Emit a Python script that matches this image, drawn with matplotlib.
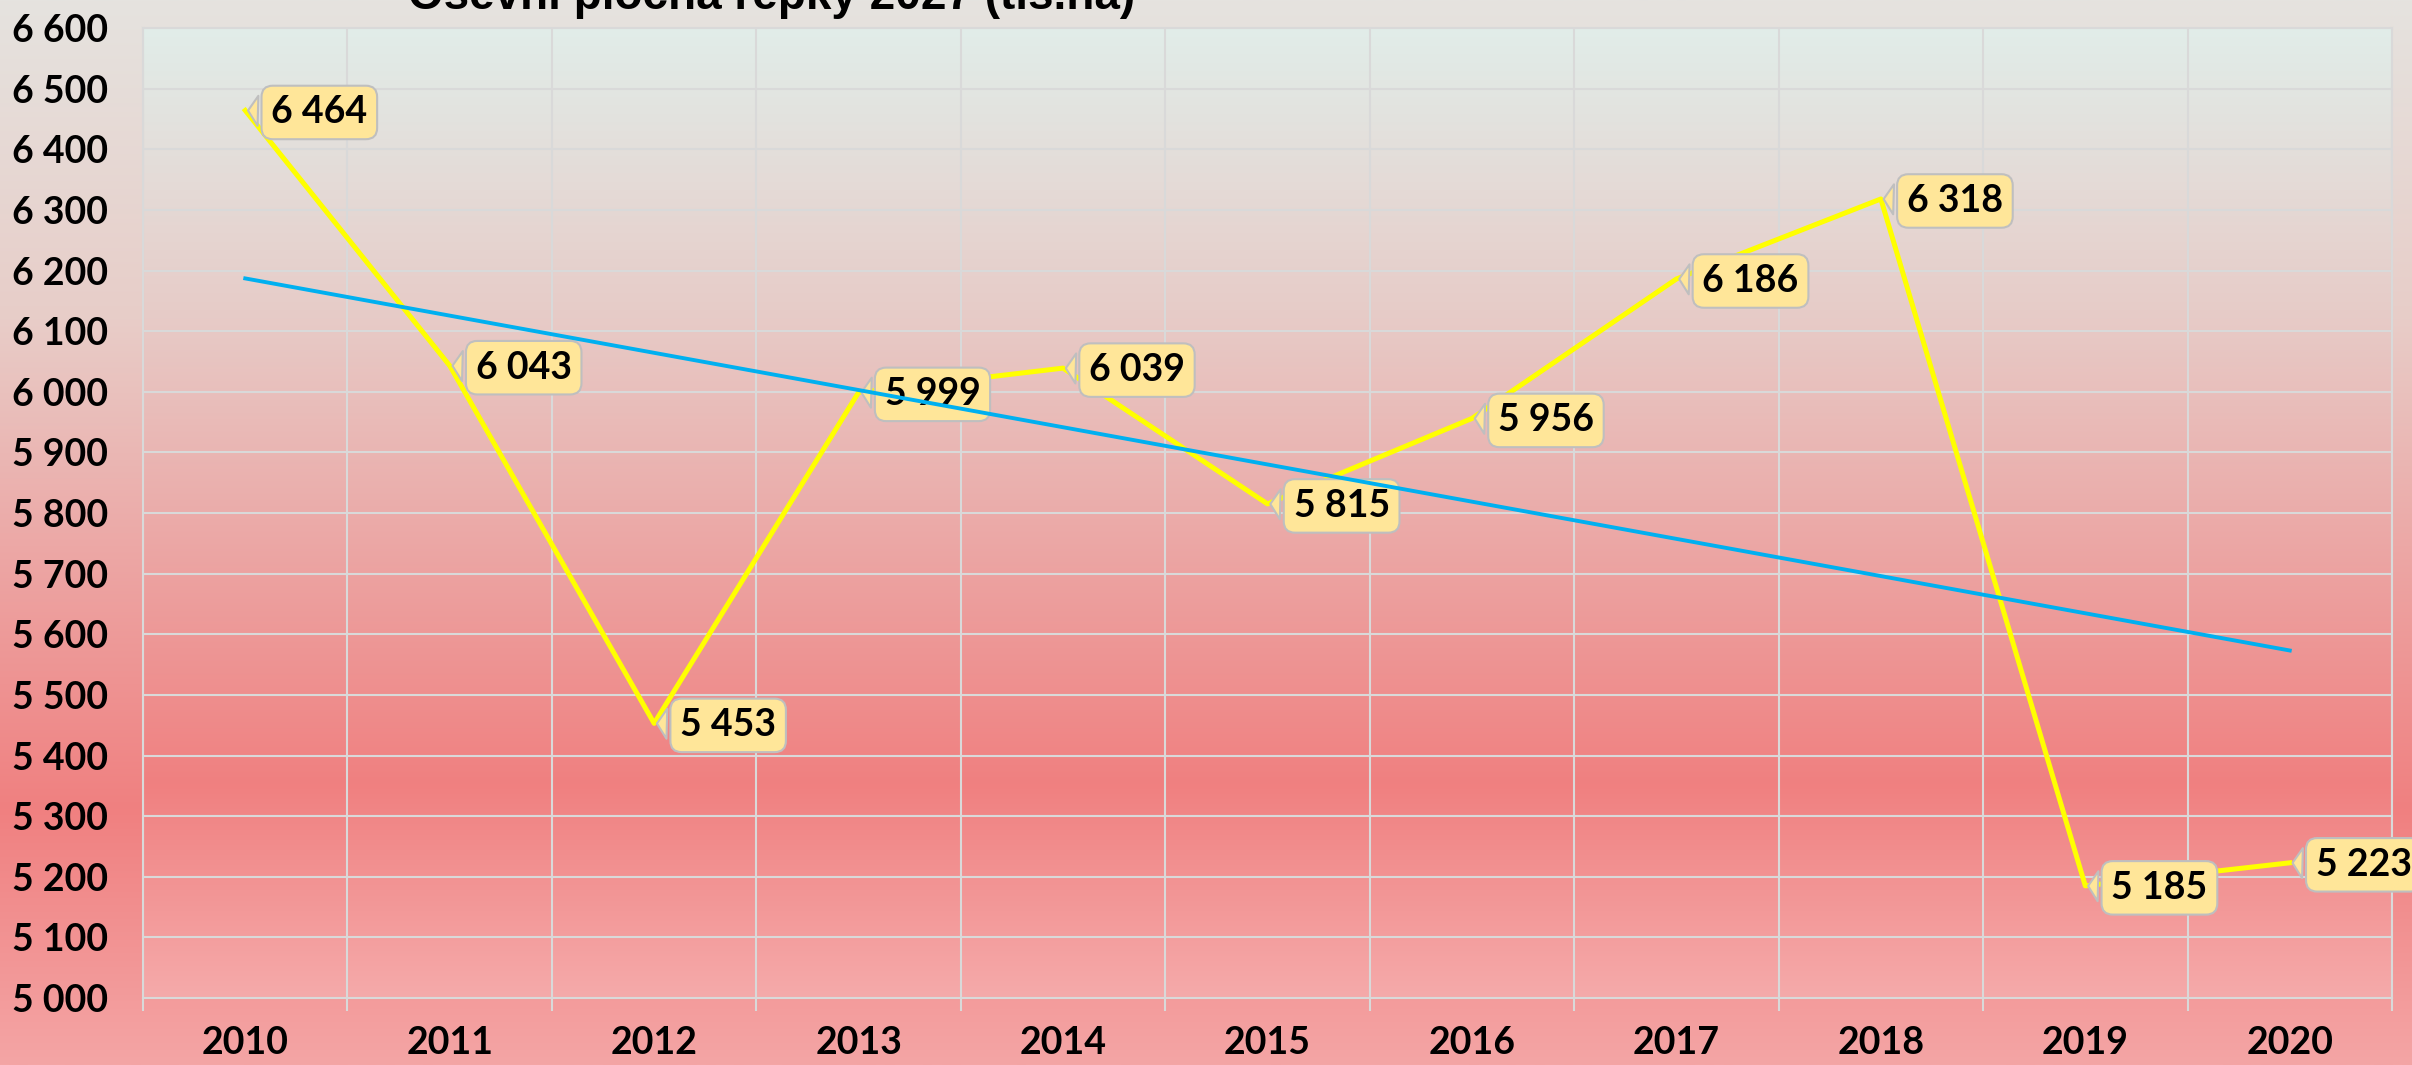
import numpy as np
import matplotlib
matplotlib.use("Agg")
import matplotlib.pyplot as plt
from matplotlib.ticker import FuncFormatter, MultipleLocator

# data
years = ["2010", "2011", "2012", "2013", "2014", "2015", "2016", "2017", "2018", "2019", "2020"]
area = [6464, 6043, 5453, 5999, 6039, 5815, 5956, 6186, 6318, 5185, 5223]
title = "Osevní plocha řepky 2027 (tis.ha)"


def gradient(stops, n=400):
    # vertical colour gradient, top row first
    pos = [s[0] for s in stops]
    cols = np.array([s[1] for s in stops], dtype=float) / 255.0
    t = np.linspace(0, 1, n)
    img = np.stack([np.interp(t, pos, cols[:, c]) for c in range(3)], axis=1)
    return img[:, None, :]


fig = plt.figure(figsize=(24.12, 10.65), dpi=100)

# figure background
bg = fig.add_axes([0, 0, 1, 1], zorder=-10)
bg.imshow(gradient([(0.0, (229, 227, 223)), (0.3, (232, 205, 200)), (0.5, (236, 170, 168)),
                    (0.76, (240, 128, 128)), (1.0, (244, 165, 165))]),
          aspect="auto", extent=[0, 1, 0, 1])
bg.axis("off")

ax = fig.add_axes([0.0593, 0.0629, 0.9324, 0.9108])
ax.set_facecolor("none")
ax.imshow(gradient([(0.0, (225, 237, 233)), (0.3, (231, 203, 199)), (0.5, (235, 172, 170)),
                    (0.78, (240, 128, 128)), (1.0, (245, 170, 170))]),
          aspect="auto", extent=[0, 1, 0, 1], transform=ax.transAxes, zorder=0)

x = np.arange(len(years))
ax.plot(x, area, color="#FFFF00", lw=3.6, zorder=3)

# linear trend
k, q = np.polyfit(x, area, 1)
ax.plot(x, k * x + q, color="#00B0F0", lw=2.8, zorder=6)

fmt = lambda v: f"{int(v):,}".replace(",", " ")

for xi, v in zip(x, area):
    ax.annotate(fmt(v), xy=(xi, v), xytext=(26, -2), textcoords="offset pixels",
                ha="left", va="center", fontsize=27, fontweight="bold", family="Lato",
                color="black", zorder=5, annotation_clip=False,
                bbox=dict(boxstyle="round,pad=0.26,rounding_size=0.3", fc="#FFE699",
                          ec="#BFBFBF", lw=1.5),
                arrowprops=dict(arrowstyle="wedge,tail_width=0.8,shrink_factor=0.5",
                                fc="#FFE699", ec="#BFBFBF", lw=1.5))

ax.set_xlim(-0.5, len(years) - 0.5)
ax.set_ylim(5000, 6600)
ax.yaxis.set_major_locator(MultipleLocator(100))
ax.yaxis.set_major_formatter(FuncFormatter(lambda v, p: fmt(v)))
ax.set_xticks(x)
ax.set_xticklabels(years)
ax.set_xticks(np.arange(-0.5, len(years)), minor=True)

ax.grid(axis="y", which="major", color="#D9D9D9", lw=1.5, zorder=1)
ax.grid(axis="x", which="minor", color="#D9D9D9", lw=1.5, zorder=1)
ax.set_axisbelow(True)
for s in ax.spines.values():
    s.set_color("#D9D9D9")
    s.set_linewidth(1.5)

ax.tick_params(axis="x", which="major", length=0, pad=20)
ax.tick_params(axis="x", which="minor", length=9, width=1.5, color="#D9D9D9")
ax.tick_params(axis="y", length=0, pad=25)
for lab in ax.get_xticklabels() + ax.get_yticklabels():
    lab.set_fontsize(27)
    lab.set_fontweight("bold")
    lab.set_family("Lato")

# title is partly cut by the top edge, as in the original slide
fig.text(0.32, 1 - 9 / 1065, title, ha="center", va="baseline", fontsize=33,
         fontweight="bold", family="Liberation Sans", color="black")

fig.savefig("out.png", dpi=100)
